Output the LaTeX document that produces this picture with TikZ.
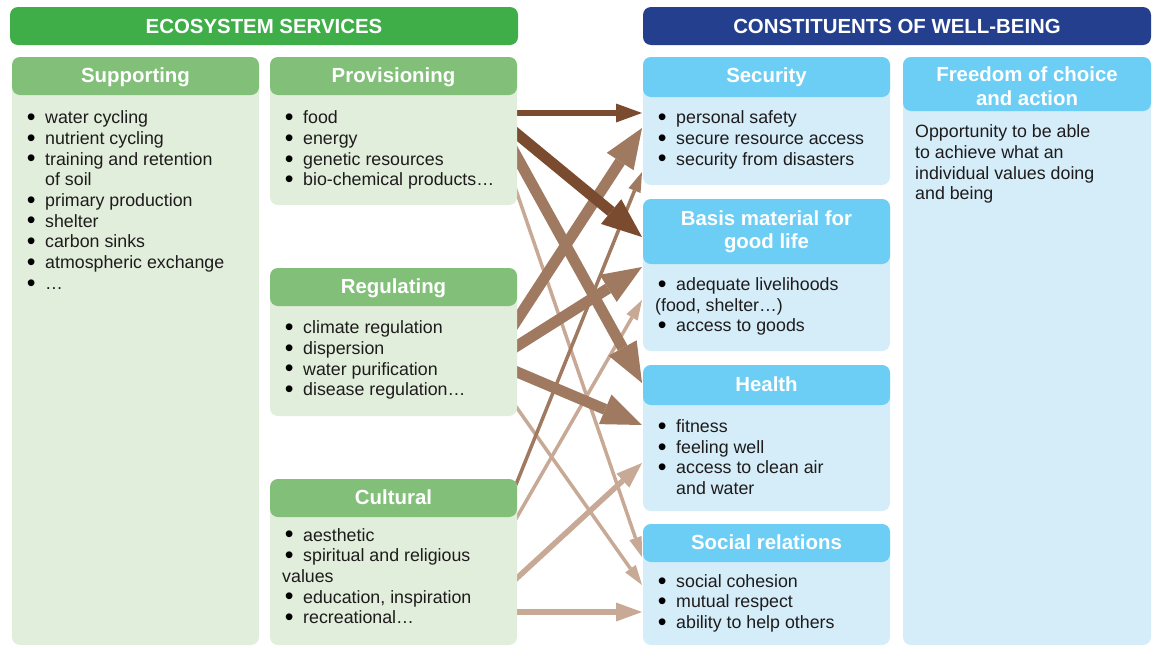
\documentclass[tikz,border=0pt]{standalone}
\usepackage{fontspec}
\usepackage{graphicx}
\setmainfont{Liberation Sans}
\usetikzlibrary{arrows.meta}
\pgfdeclarelayer{bg}
\pgfsetlayers{bg,main}
\definecolor{ecoGreen}{HTML}{3FAE49}
\definecolor{colGreen}{HTML}{82C07A}
\definecolor{bodyGreen}{HTML}{E2EEDC}
\definecolor{navy}{HTML}{253F8F}
\definecolor{colBlue}{HTML}{6CCEF5}
\definecolor{bodyBlue}{HTML}{D4EDF9}
\definecolor{txt}{HTML}{1E1B1C}
\definecolor{arDark}{HTML}{7B4B2F}
\definecolor{arMed}{HTML}{A07A60}
\definecolor{arLight}{HTML}{C8A995}
\newcommand{\bul}{\makebox[21pt][l]{\hspace{2.6pt}\raisebox{-1.8pt}{\scalebox{1.4}{\color{black}•}}}}
\newcommand{\ind}{\hspace*{21pt}}
\newcommand{\btxt}[1]{\parbox[t]{232pt}{\raggedright\fontsize{17.8}{20.7}\selectfont #1}}
\newcommand{\htxt}[2]{\parbox[t]{#1}{\centering\bfseries\fontsize{20.4}{23.5}\selectfont #2}}
\begin{document}
\begin{tikzpicture}[x=1pt,y=-1pt,
  box/.style={rounded corners=8pt, inner sep=0pt, outer sep=0pt, anchor=north west, draw=none},
  gbody/.style={box, fill=bodyGreen},
  ghead/.style={box, fill=colGreen},
  bbody/.style={box, fill=bodyBlue},
  bhead/.style={box, fill=colBlue},
  htext/.style={anchor=base, inner sep=0pt, text=white},
  btext/.style={anchor=base west, inner sep=0pt, text=txt},
  arr/.style={shorten <=-12pt},
  strong/.style={arr, line width=11pt, -{Triangle[length=40pt,width=32pt,line width=0pt]}},
  medium/.style={arr, line width=5.5pt, -{Triangle[length=26pt,width=19pt,line width=0pt]}},
  weak/.style={arr, line width=3.5pt, -{Triangle[length=20pt,width=13pt,line width=0pt]}}
]
\useasboundingbox (0,0) rectangle (1158,646);

% main headers
\node[box, fill=ecoGreen, minimum width=508pt, minimum height=38pt] (ecoH) at (10,7) {};
\node[htext] (ecoT) at (264,33.5) {\htxt{500pt}{ECOSYSTEM SERVICES}};
\node[box, fill=navy, minimum width=508pt, minimum height=38pt] (cwbH) at (643,7) {};
\node[htext] (cwbT) at (897,33.5) {\htxt{500pt}{CONSTITUENTS OF WELL-BEING}};

% Supporting
\node[gbody, minimum width=247pt, minimum height=588pt] (supB) at (12,57) {};
\node[ghead, minimum width=247pt, minimum height=38pt] (supH) at (12,57) {};
\node[htext] (supT) at (135.5,82.5) {\htxt{240pt}{Supporting}};
\node[btext] (supX) at (24,123.6) {\btxt{\bul water cycling\\ \bul nutrient cycling\\ \bul training and retention\\ \ind of soil\\ \bul primary production\\ \bul shelter\\ \bul carbon sinks\\ \bul atmospheric exchange\\ \bul …}};

% Provisioning
\node[gbody, minimum width=247pt, minimum height=148pt] (provB) at (270,57) {};
\node[ghead, minimum width=247pt, minimum height=38pt] (provH) at (270,57) {};
\node[htext] (provT) at (393.5,82.5) {\htxt{240pt}{Provisioning}};
\node[btext] (provX) at (282,123.8) {\btxt{\bul food\\ \bul energy\\ \bul genetic resources\\ \bul bio-chemical products…}};

% Regulating
\node[gbody, minimum width=247pt, minimum height=148pt] (regB) at (270,268) {};
\node[ghead, minimum width=247pt, minimum height=38pt] (regH) at (270,268) {};
\node[htext] (regT) at (393.5,293.5) {\htxt{240pt}{Regulating}};
\node[btext] (regX) at (282,333.6) {\btxt{\bul climate regulation\\ \bul dispersion\\ \bul water purification\\ \bul disease regulation…}};

% Cultural
\node[gbody, minimum width=247pt, minimum height=166pt] (cultB) at (270,479) {};
\node[ghead, minimum width=247pt, minimum height=38pt] (cultH) at (270,479) {};
\node[htext] (cultT) at (393.5,504.5) {\htxt{240pt}{Cultural}};
\node[btext] (cultX) at (282,541) {\btxt{\bul aesthetic\\ \bul spiritual and religious\\ values\\ \bul education, inspiration\\ \bul recreational…}};

% Security
\node[bbody, minimum width=247pt, minimum height=128pt] (secB) at (643,57) {};
\node[bhead, minimum width=247pt, minimum height=40pt] (secH) at (643,57) {};
\node[htext] (secT) at (766.5,82) {\htxt{240pt}{Security}};
\node[btext] (secX) at (655,123.6) {\btxt{\bul personal safety\\ \bul secure resource access\\ \bul security from disasters}};

% Basis material
\node[bbody, minimum width=247pt, minimum height=152pt] (basB) at (643,199) {};
\node[bhead, minimum width=247pt, minimum height=65pt] (basH) at (643,199) {};
\node[htext] (basT) at (766.5,225) {\htxt{240pt}{Basis material for\\ good life}};
\node[btext] (basX) at (655,290.5) {\btxt{\bul adequate livelihoods\\ (food, shelter…)\\ \bul access to goods}};

% Health
\node[bbody, minimum width=247pt, minimum height=146pt] (heaB) at (643,365) {};
\node[bhead, minimum width=247pt, minimum height=40pt] (heaH) at (643,365) {};
\node[htext] (heaT) at (766.5,391) {\htxt{240pt}{Health}};
\node[btext] (heaX) at (655,432.5) {\btxt{\bul fitness\\ \bul feeling well\\ \bul access to clean air\\ \ind and water}};

% Social relations
\node[bbody, minimum width=247pt, minimum height=121pt] (socB) at (643,524) {};
\node[bhead, minimum width=247pt, minimum height=38pt] (socH) at (643,524) {};
\node[htext] (socT) at (766.5,549) {\htxt{240pt}{Social relations}};
\node[btext] (socX) at (655,587.2) {\btxt{\bul social cohesion\\ \bul mutual respect\\ \bul ability to help others}};

% Freedom
\node[bbody, minimum width=248pt, minimum height=588pt] (freB) at (903,57) {};
\node[bhead, minimum width=248pt, minimum height=54pt] (freH) at (903,57) {};
\node[htext] (freT) at (1027,81.7) {\htxt{240pt}{Freedom of choice\\ and action}};
\node[btext] (freX) at (915,137.8) {\btxt{Opportunity to be able\\ to achieve what an\\ individual values doing\\ and being}};

% arrows
\begin{pgfonlayer}{bg}
% light
\draw[weak, arLight] ([yshift=-136pt]provB.north east) -- ([xshift=-1pt,yshift=-33pt]socB.north west);
\draw[weak, arLight] ([yshift=-140pt]regB.north east) -- ([xshift=-1pt,yshift=-61pt]socB.north west);
\draw[weak, arLight] ([yshift=-38pt]cultB.north east) -- ([xshift=-1pt,yshift=-101pt]basB.north west);
\draw[medium, arLight] ([yshift=-99pt]cultB.north east) -- ([xshift=-1pt,yshift=-98pt]heaB.north west);
\draw[medium, arLight] ([yshift=-133pt]cultB.north east) -- ([xshift=-1pt,yshift=-88pt]socB.north west);
% medium colour
\draw[weak, arMed] ([yshift=-3pt]cultB.north east) -- ([xshift=-1pt,yshift=-115pt]secB.north west);
\draw[strong, arMed] ([yshift=-100pt]provB.north east) -- ([xshift=-1pt,yshift=-18pt]heaB.north west);
\draw[strong, arMed] ([yshift=-52pt]regB.north east) -- ([xshift=-1pt,yshift=-71pt]secB.north west);
\draw[strong, arMed] ([yshift=-78pt]regB.north east) -- ([xshift=-1pt,yshift=-68pt]basB.north west);
\draw[strong, arMed] ([yshift=-104pt]regB.north east) -- ([xshift=-1pt,yshift=-60pt]heaB.north west);
% dark
\draw[medium, arDark] ([yshift=-56pt]provB.north east) -- ([xshift=-1pt,yshift=-56pt]secB.north west);
\draw[strong, arDark] ([yshift=-77pt]provB.north east) -- ([xshift=-1pt,yshift=-38pt]basB.north west);
\end{pgfonlayer}
\end{tikzpicture}
\end{document}
